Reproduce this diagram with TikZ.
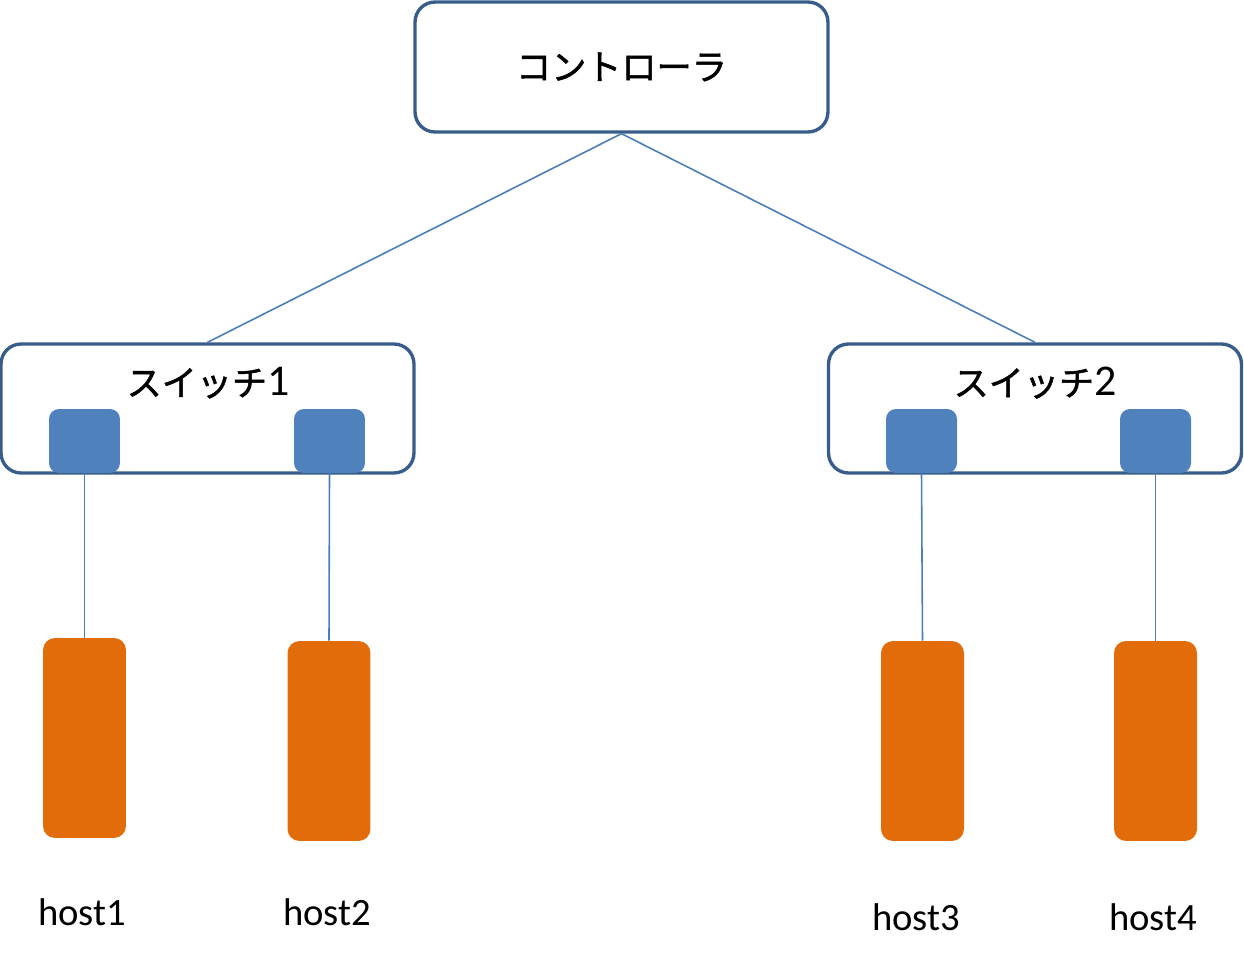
\documentclass[tikz,border=0pt]{standalone}
\usepackage{fontspec}
\setmainfont{Carlito}
\newfontfamily\jpfont[BoldFont={Noto Sans CJK JP}, BoldFeatures={FakeBold=1.4}]{Noto Sans CJK JP}
\usetikzlibrary{positioning}
\definecolor{boxline}{HTML}{385D8A}
\definecolor{wire}{HTML}{4A7EBB}
\definecolor{portfill}{HTML}{4F81BD}
\definecolor{hostfill}{HTML}{E36C0A}

\begin{document}
\begin{tikzpicture}
[
x=0.02cm, y=-0.02cm,
ctrlbox/.style={rectangle, draw=boxline, line width=1.9pt, rounded corners=4mm, fill=white, inner sep=0pt, minimum width=82.6mm, minimum height=26mm},
swbox/.style={rectangle, draw=boxline, line width=1.9pt, rounded corners=4mm, fill=white, inner sep=0pt, minimum width=82.6mm, minimum height=25.8mm},
port/.style={rectangle, fill=portfill, rounded corners=2mm, minimum width=14.2mm, minimum height=12.8mm, inner sep=0pt},
host/.style={rectangle, fill=hostfill, rounded corners=2.4mm, minimum width=16.6mm, minimum height=40mm, inner sep=0pt},
text-a/.style={text=black, font=\fontsize{20}{24}\selectfont},
text-h/.style={text=black, font=\fontsize{22}{26}\selectfont},
wire/.style={draw=wire, line width=0.9pt},
]
\useasboundingbox (0,0) rectangle (1244,963);
\node (ctrl) [ctrlbox, text-a] at (621.5,67) {\jpfont\bfseries コントローラ};
\node (sw1) [swbox] at (207.5,408.5) {};
\node (sw2) [swbox] at (1035,408.5) {};
\node (sw1txt) [text-a] at (208,383) {{\jpfont\bfseries スイッチ}{\fontsize{25}{28}\selectfont 1}};
\node (sw2txt) [text-a] at (1035,383) {{\jpfont\bfseries スイッチ}{\fontsize{25}{28}\selectfont 2}};
\node (p1) [port] at (84.5,441) {};
\node (p2) [port] at (329.5,441) {};
\node (p3) [port] at (921.5,441) {};
\node (p4) [port] at (1155.5,441) {};
\node (h1) [host] at (84.5,738) {};
\node (h2) [host] at (329,741) {};
\node (h3) [host] at (922.5,741) {};
\node (h4) [host] at (1155.5,741) {};
\node (l1) [text-h] at (82,912) {host1};
\node (l2) [text-h] at (327,912) {host2};
\node (l3) [text-h] at (916,917) {host3};
\node (l4) [text-h] at (1153,917) {host4};
\path [wire] (ctrl.south) -- (sw1.north);
\path [wire] (ctrl.south) -- (sw2.north);
\path [wire] (p1.south) -- (h1.north);
\path [wire] (p2.south) -- (h2.north);
\path [wire] (p3.south) -- (h3.north);
\path [wire] (p4.south) -- (h4.north);
\end{tikzpicture}
\end{document}
